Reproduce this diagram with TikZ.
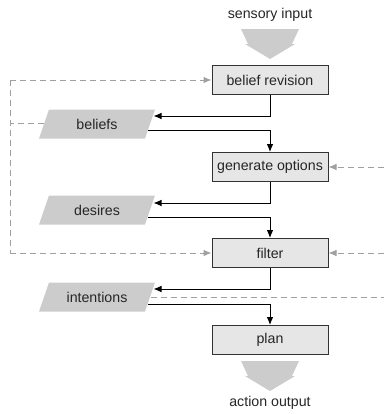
\documentclass[tikz,border=0pt]{standalone}
\usepackage{fontspec}
\setmainfont{Liberation Sans}
\usetikzlibrary{arrows.meta}
\definecolor{boxfill}{HTML}{E6E6E6}
\definecolor{datafill}{HTML}{CCCCCC}
\definecolor{dashgray}{HTML}{A0A0A0}
\begin{document}
\begin{tikzpicture}[x=0.75pt,y=-0.75pt,
  every node/.style={font=\fontsize{10.65}{12}\selectfont, text=black!85},
  proc/.style={draw=black!80, line width=0.75pt, fill=boxfill, minimum width=87pt, minimum height=21.75pt, inner sep=0pt},
  txt/.style={inner sep=0pt},
  flow/.style={draw=black, line width=0.75pt, -{Latex[length=6pt,width=5pt]}},
  feed/.style={draw=dashgray, line width=0.75pt, dash pattern=on 4.5pt off 3pt, -{Latex[length=6pt,width=5pt]}},
  feedline/.style={draw=dashgray, line width=0.75pt, dash pattern=on 4.5pt off 3pt},
  bigarrow/.style={fill=datafill, draw=none},
  datashape/.style={fill=datafill, draw=none}]
\useasboundingbox (0,0) rectangle (384,414);

% process boxes
\node[proc] (br) at (270,80) {belief revision};
\node[proc] (go) at (270,167) {generate options};
\node[proc] (fi) at (270,253) {filter};
\node[proc] (pl) at (270,340) {plan};

% data parallelograms
\fill[datashape] (49,109.5) -- (155,109.5) -- (145,138.5) -- (39,138.5) -- cycle;
\fill[datashape] (49,195.5) -- (155,195.5) -- (145,224.5) -- (39,224.5) -- cycle;
\fill[datashape] (49,282.5) -- (155,282.5) -- (145,311.5) -- (39,311.5) -- cycle;
\node[txt] (be) at (97,124) {beliefs};
\node[txt] (de) at (97,210) {desires};
\node[txt] (in) at (97,297) {intentions};

% big arrows and labels
\node[txt] (si) at (270,15) {sensory input};
\node[txt] (ao) at (270,403) {action output};
\fill[bigarrow] (241,29) -- (299,29) -- (292,44) -- (295,44) -- (270,59) -- (245,44) -- (248,44) -- cycle;
\fill[bigarrow] (241,361) -- (299,361) -- (292,376) -- (295,376) -- (270,391) -- (245,376) -- (248,376) -- cycle;

% anchor coordinates on the parallelograms
\coordinate (beIn) at (153.5,116);
\coordinate (beOut) at (148,130);
\coordinate (beL) at (44,123.5);
\coordinate (deIn) at (153.5,203);
\coordinate (deOut) at (148,217);
\coordinate (inIn) at (153.5,289);
\coordinate (inOut) at (148,304);
\coordinate (inR) at (150.5,297);

% solid flow
\draw[flow] (br.south) |- (beIn);
\draw[flow] (beOut) -| (go.north);
\draw[flow] (go.south) |- (deIn);
\draw[flow] (deOut) -| (fi.north);
\draw[flow] (fi.south) |- (inIn);
\draw[flow] (inOut) -| (pl.north);

% dashed feedback
\coordinate (lc) at (10,123.5);
\coordinate (ltop) at (10,80);
\coordinate (lbot) at (10,253);
\coordinate (rgo) at (384,167);
\coordinate (rfi) at (384,253);
\coordinate (rin) at (384,297);
\draw[feedline] (beL) -- (lc);
\draw[feedline] (ltop) -- (lbot);
\draw[feed] (ltop) -- (br.west);
\draw[feed] (lbot) -- (fi.west);
\draw[feed] (rgo) -- (go.east);
\draw[feed] (rfi) -- (fi.east);
\draw[feedline] (inR) -- (rin);
\end{tikzpicture}
\end{document}
